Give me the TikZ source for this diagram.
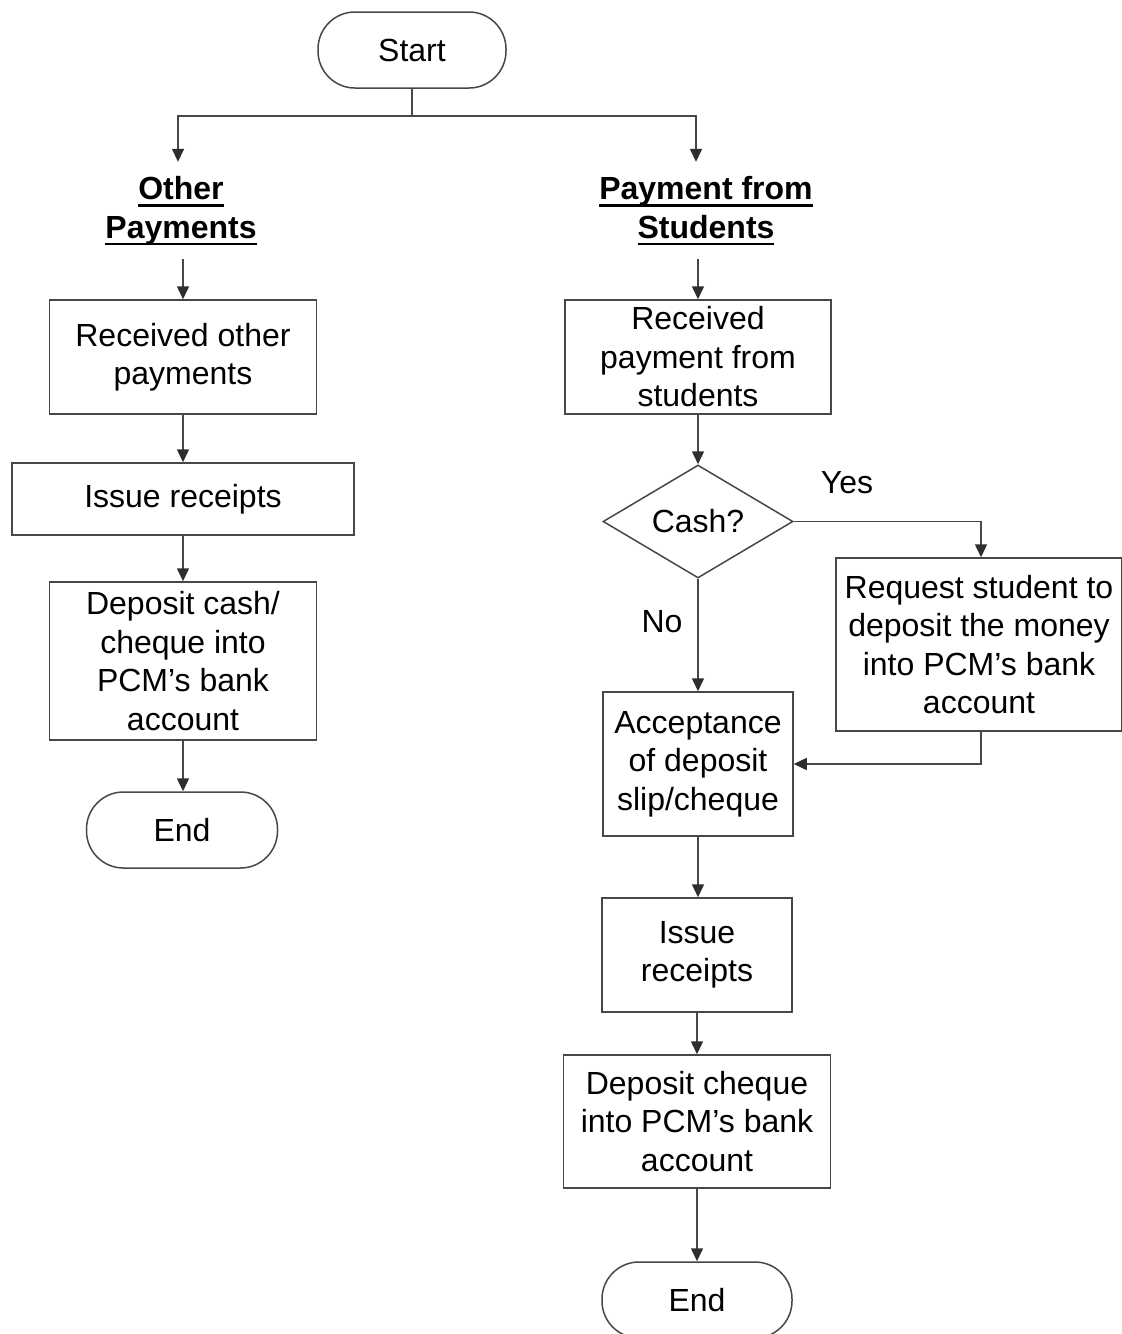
\documentclass[tikz,border=0pt]{standalone}
\usepackage{fontspec}
\setmainfont{Liberation Sans}
\usetikzlibrary{arrows.meta,shapes.geometric}
\definecolor{ln}{HTML}{474747}
\definecolor{tip}{HTML}{2E2E2E}
\newcommand\myul[1]{\setbox0\hbox{#1}\rlap{\rule[-7pt]{\wd0}{2.4pt}}\box0}
\tikzset{
  base/.style={font=\fontsize{32}{38.5}\selectfont, align=center, inner sep=0pt, text=black},
  procbox/.style={base, draw=ln, line width=1.5pt, rectangle},
  termbox/.style={base, draw=ln, line width=1.5pt, rectangle, rounded corners=37pt},
  decbox/.style={base, draw=ln, line width=1.5pt, diamond, aspect=1.68},
  headtxt/.style={base, font=\fontsize{32}{38.5}\selectfont\bfseries, minimum height=96pt},
  lbl/.style={base},
  conn/.style={draw=ln, line width=1.5pt, -{Triangle[width=12pt,length=13pt,color=tip]}},
  plain/.style={draw=ln, line width=1.5pt}
}
\begin{document}
\begin{tikzpicture}[x=1pt,y=-1pt]
\useasboundingbox (0,0) rectangle (1122,1334);
\fill[white] (0,0) rectangle (1122,1334);
% nodes
\node[termbox, minimum width=188pt, minimum height=76pt] (start) at (412,50) {Start};
\node[headtxt] (ohead) at (181,211) {\myul{Other}\\\myul{Payments}};
\node[headtxt] (phead) at (706,211) {\myul{Payment from}\\\myul{Students}};
% left column
\node[procbox, minimum width=267pt, minimum height=114pt] (b1) at (183,357) {Received other\\payments};
\node[procbox, minimum width=342pt, minimum height=72pt] (b2) at (183,499) {Issue receipts};
\node[procbox, minimum width=267pt, minimum height=158pt] (b3) at (183,661) {Deposit cash/\\cheque into\\PCM’s bank\\account};
\node[termbox, minimum width=191pt, minimum height=76pt] (end1) at (182,830) {End};
% right column
\node[procbox, minimum width=266pt, minimum height=114pt] (r1) at (698,357) {Received\\payment from\\students};
\node[decbox, minimum width=190pt, minimum height=113pt] (dia) at (698,521.5) {Cash?};
\node[procbox, minimum width=286pt, minimum height=173pt] (req) at (979,644.5) {Request student to\\deposit the money\\into PCM’s bank\\account};
\node[procbox, minimum width=190pt, minimum height=144pt] (acc) at (698,764) {Acceptance\\of deposit\\slip/cheque};
\node[procbox, minimum width=190pt, minimum height=114pt] (r3) at (697,955) {Issue\\receipts};
\node[procbox, minimum width=267pt, minimum height=133pt] (r4) at (697,1121.5) {Deposit cheque\\into PCM’s bank\\account};
\node[termbox, minimum width=190pt, minimum height=76pt] (end2) at (697,1300) {End};
% labels
\node[lbl] (yes) at (847,483) {Yes};
\node[lbl] (no) at (662,622) {No};
% connectors
\coordinate (split) at (412,116);
\draw[plain] (start.south) -- (split);
\draw[conn] (split) -| ([xshift=-3pt,yshift=1pt]ohead.north);
\draw[conn] (split) -| ([xshift=-10pt,yshift=1pt]phead.north);
\draw[conn] ([xshift=2pt]ohead.south) -- (b1.north);
\draw[conn] (b1) -- (b2);
\draw[conn] (b2) -- (b3);
\draw[conn] (b3.south) -- (b3.south |- end1.north);
\draw[conn] ([xshift=-8pt]phead.south) -- (r1.north);
\draw[conn] (r1) -- (dia);
\draw[conn] (dia.east) -| ([xshift=2pt]req.north);
\draw[conn] (dia.south) -- (acc.north);
\draw[conn] ([xshift=2pt]req.south) |- (acc.east);
\draw[conn] (acc.south) -- (acc.south |- r3.north);
\draw[conn] (r3) -- (r4);
\draw[conn] (r4) -- (end2);
\end{tikzpicture}
\end{document}
